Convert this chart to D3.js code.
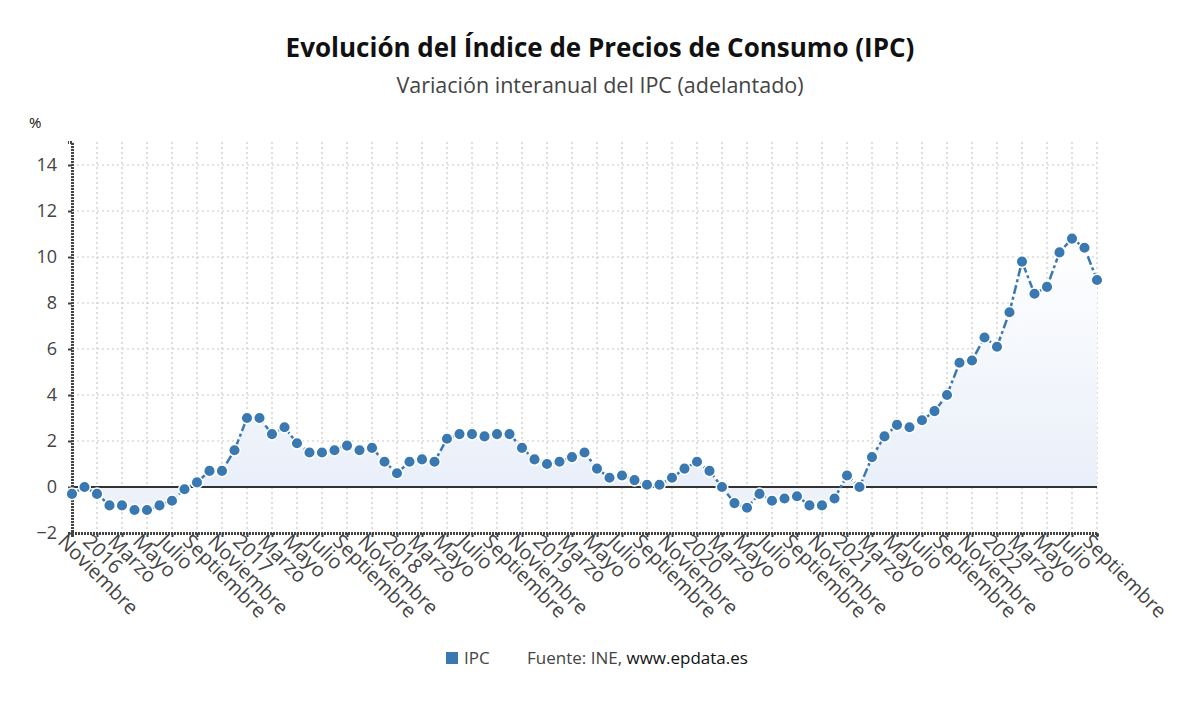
<!DOCTYPE html>
<html><head><meta charset="utf-8">
<script src="https://cdn.jsdelivr.net/npm/d3@7"></script>
<style>body{margin:0;background:#fff}svg{display:block;font-family:"Open Sans",sans-serif}</style>
</head><body><svg id="c" width="1200" height="705"></svg>
<script>
const monthNames = ["Enero","Febrero","Marzo","Abril","Mayo","Junio","Julio","Agosto","Septiembre","Octubre","Noviembre","Diciembre"];
const startYear = 2015, startMonth = 10; // Noviembre 2015 (0-based month)
const ipc = [-0.3,0.0,-0.3,-0.8,-0.8,-1.0,-1.0,-0.8,-0.6,-0.1,0.2,0.7,0.7,1.6,
3.0,3.0,2.3,2.6,1.9,1.5,1.5,1.6,1.8,1.6,1.7,1.1,
0.6,1.1,1.2,1.1,2.1,2.3,2.3,2.2,2.3,2.3,1.7,1.2,
1.0,1.1,1.3,1.5,0.8,0.4,0.5,0.3,0.1,0.1,0.4,0.8,
1.1,0.7,0.0,-0.7,-0.9,-0.3,-0.6,-0.5,-0.4,-0.8,-0.8,-0.5,
0.5,0.0,1.3,2.2,2.7,2.6,2.9,3.3,4.0,5.4,5.5,6.5,
6.1,7.6,9.8,8.4,8.7,10.2,10.8,10.4,9.0];
const yTicks = [-2,0,2,4,6,8,10,12,14];

const labels = ipc.map((v,i)=>{const m=(startMonth+i)%12, y=startYear+Math.floor((startMonth+i)/12); return m===0? String(y) : monthNames[m];});
const data = ipc.map((v,i)=>({i, v, label:labels[i]}));

const svg = d3.select("#c");
const L=72, R=1097, T=142, B=533;
const x = d3.scaleLinear().domain([0, ipc.length-1]).range([L,R]);
const y = d3.scaleLinear().domain([-2,15]).range([B,T]);
const col = "#3a78b2";

const defs = svg.append("defs");
const g1 = defs.append("linearGradient").attr("id","fillg").attr("x1",0).attr("x2",0)
  .attr("gradientUnits","userSpaceOnUse").attr("y1",y(11)).attr("y2",y(0));
g1.append("stop").attr("offset",0).attr("stop-color","#ffffff");
g1.append("stop").attr("offset",1).attr("stop-color","#e9eff9");

// grid
const tickIdx = data.filter(d=>d.i%2===0).map(d=>d.i);
svg.append("g").selectAll("line").data(tickIdx).join("line")
  .attr("x1",d=>x(d)).attr("x2",d=>x(d)).attr("y1",T).attr("y2",B)
  .attr("stroke","#c8c8c8").attr("stroke-width",1.2).attr("stroke-dasharray","2,3");
svg.append("g").selectAll("line").data(yTicks.filter(t=>t>0)).join("line")
  .attr("x1",L).attr("x2",R).attr("y1",d=>y(d)).attr("y2",d=>y(d))
  .attr("stroke","#c8c8c8").attr("stroke-width",1.2).attr("stroke-dasharray","2,3");

// area
const area = d3.area().x(d=>x(d.i)).y0(y(0)).y1(d=>y(d.v));
svg.append("path").datum(data).attr("d",area).attr("fill","url(#fillg)");
svg.append("clipPath").attr("id","negclip").append("rect").attr("x",L).attr("y",y(0)).attr("width",R-L).attr("height",B-y(0));
svg.append("path").datum(data).attr("d",area).attr("fill","#edf2fa").attr("clip-path","url(#negclip)");

// zero line
svg.append("line").attr("x1",L).attr("x2",R).attr("y1",y(0)).attr("y2",y(0)).attr("stroke","#333").attr("stroke-width",2);

// axes
const yAxis = d3.axisLeft(y).tickValues(yTicks).tickSize(4).tickFormat(d3.format("d"));
const ya = svg.append("g").attr("transform",`translate(${L},0)`).call(yAxis);
ya.select(".domain").attr("stroke","#444").attr("stroke-width",3).attr("stroke-dasharray","2,1");
ya.selectAll(".tick line").attr("stroke","#444").attr("stroke-width",2);
ya.selectAll(".tick text").attr("font-size",18).attr("fill","#444").attr("font-family","Open Sans").attr("x",-15);

const xAxis = d3.axisBottom(x).tickValues(tickIdx).tickSize(4).tickFormat(i=>labels[i]);
const xa = svg.append("g").attr("transform",`translate(0,${B})`).call(xAxis);
xa.select(".domain").attr("stroke","#444").attr("stroke-width",3).attr("stroke-dasharray","2,1");
xa.selectAll(".tick line").attr("stroke","#444").attr("stroke-width",2);
xa.selectAll(".tick text").attr("font-size",20).attr("fill","#444").attr("font-family","Open Sans")
  .attr("text-anchor","start").attr("transform","translate(-8,2) rotate(45)").attr("y",0).attr("dy","0.55em").attr("x",0);

// line
const line = d3.line().x(d=>x(d.i)).y(d=>y(d.v));
svg.append("path").datum(data).attr("d",line).attr("fill","none").attr("stroke",col).attr("stroke-width",2.5)
  .attr("stroke-dasharray","9,3,3,3");
svg.append("g").selectAll("circle").data(data).join("circle")
  .attr("cx",d=>x(d.i)).attr("cy",d=>y(d.v)).attr("r",5.8).attr("fill",col).attr("stroke","#fff").attr("stroke-width",1.5);

// titles
svg.append("text").attr("x",600).attr("y",57).attr("text-anchor","middle").attr("font-size",26).attr("font-weight",700).attr("fill","#111")
  .text("Evolución del Índice de Precios de Consumo (IPC)");
svg.append("text").attr("x",600).attr("y",93).attr("text-anchor","middle").attr("font-size",21.5).attr("fill","#444")
  .text("Variación interanual del IPC (adelantado)");
svg.append("text").attr("x",29).attr("y",128).attr("font-size",15).attr("fill","#111").text("%");

// legend
svg.append("rect").attr("x",446).attr("y",652).attr("width",12).attr("height",12).attr("fill",col);
svg.append("text").attr("x",464).attr("y",664).attr("font-size",17).attr("fill","#444").text("IPC");
const src = svg.append("text").attr("x",527).attr("y",664).attr("font-size",17);
src.append("tspan").attr("fill","#444").text("Fuente: INE, ");
src.append("tspan").attr("fill","#111").text("www.epdata.es");
</script></body></html>
